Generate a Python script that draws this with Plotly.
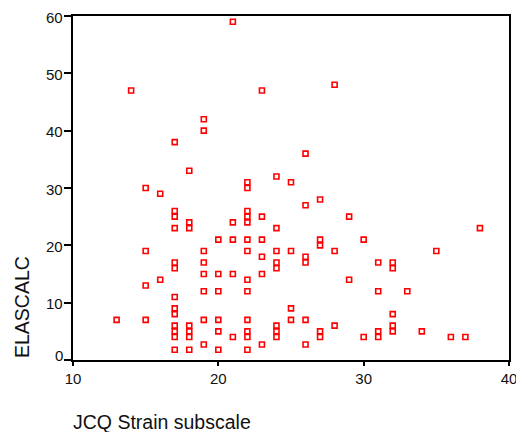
import plotly.graph_objects as go

# JCQ Strain subscale (x) and ELASCALC (y)
jcq = [13, 14,
       15, 15, 15, 15,
       16, 16,
       17, 17, 17, 17, 17, 17, 17, 17, 17, 17, 17, 17, 17,
       18, 18, 18, 18, 18, 18, 18,
       19, 19, 19, 19, 19, 19, 19, 19,
       20, 20, 20, 20, 20, 20,
       21, 21, 21, 21, 21,
       22, 22, 22, 22, 22, 22, 22, 22, 22, 22, 22, 22, 22,
       23, 23, 23, 23, 23, 23,
       24, 24, 24, 24, 24, 24, 24, 24,
       25, 25, 25, 25,
       26, 26, 26, 26, 26, 26,
       27, 27, 27, 27, 27,
       28, 28, 28,
       29, 29,
       30, 30,
       31, 31, 31, 31,
       32, 32, 32, 32, 32,
       33, 34, 35, 36, 37, 38]
elascalc = [7, 47,
            30, 19, 13, 7,
            29, 14,
            38, 26, 25, 23, 17, 16, 11, 9, 8, 6, 5, 4, 1.8,
            33, 24, 23, 6, 5, 4, 1.8,
            42, 40, 19, 17, 15, 12, 7, 2.7,
            21, 15, 12, 7, 5, 1.8,
            59, 24, 21, 15, 4,
            31, 30, 26, 25, 24, 21, 19, 14, 12, 7, 5, 4, 1.8,
            47, 25, 21, 18, 15, 2.7,
            32, 23, 19, 17, 16, 6, 5, 4,
            31, 19, 9, 7,
            36, 27, 18, 17, 7, 2.7,
            28, 21, 20, 5, 4,
            48, 19, 6,
            25, 14,
            21, 4,
            17, 12, 5, 4,
            17, 16, 8, 6, 5,
            12, 5, 19, 4, 4, 23]

x_ticks = [10, 20, 30, 40]
y_ticks = [0, 10, 20, 30, 40, 50, 60]
x_title = "JCQ Strain subscale"
y_title = "ELASCALC"

FONT = "Arial, 'Liberation Sans', sans-serif"
TXT = "#111111"

fig = go.Figure()
fig.add_trace(go.Scatter(
    x=jcq, y=elascalc, mode="markers",
    marker=dict(symbol="square-open", size=5, color="#ff0000",
                line=dict(width=1.6, color="#ff0000")),
    showlegend=False, hoverinfo="x+y",
))

axis_common = dict(
    showgrid=False, zeroline=False, showline=True, mirror=True,
    linecolor="black", linewidth=2, ticks="outside",
    tickwidth=1.5, tickcolor="black", automargin=False,
    tickfont=dict(family=FONT, size=15, color=TXT),
)
fig.update_xaxes(range=[10, 40], tickvals=x_ticks, ticktext=[str(v) for v in x_ticks],
                 ticklen=4, ticklabeloverflow="allow", **axis_common)
fig.update_yaxes(range=[0, 60], tickvals=y_ticks, showticklabels=False,
                 ticklen=7, **axis_common)

# y tick labels (the "0" label sits a little above its tick, as in the original)
for v in y_ticks:
    fig.add_annotation(text=str(v), xref="paper", yref="y", x=0, y=v,
                       xanchor="right", yanchor="middle", xshift=-8,
                       yshift=(5 if v == 0 else -1), showarrow=False,
                       font=dict(family=FONT, size=15, color=TXT))

fig.add_annotation(text=x_title, xref="paper", yref="paper", x=0, y=0,
                   xanchor="left", yanchor="middle", yshift=-62, xshift=-2,
                   showarrow=False, font=dict(family=FONT, size=19.5, color=TXT))
fig.add_annotation(text=y_title, xref="paper", yref="paper", x=0, y=0,
                   xanchor="center", yanchor="bottom", xshift=-51, textangle=-90,
                   showarrow=False, font=dict(family=FONT, size=19.5, color=TXT))

fig.update_layout(
    width=516, height=432,
    margin=dict(l=73, r=7, t=16, b=72),
    plot_bgcolor="white", paper_bgcolor="white",
    font=dict(family=FONT),
)

fig.write_html("out.html")
